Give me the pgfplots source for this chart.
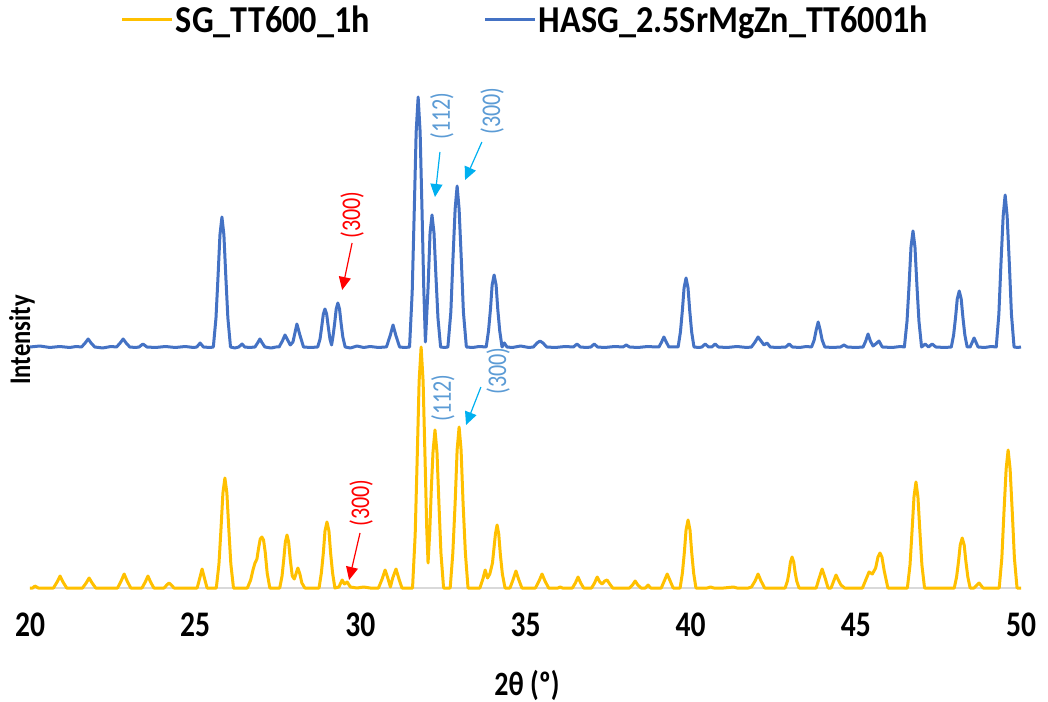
\documentclass[border=0pt]{standalone}
\usepackage{fontspec}
\setmainfont{Carlito}[FakeStretch=0.82]
\newfontfamily\legfont{Carlito}[FakeStretch=0.9]
\newfontfamily\labfont{Carlito Bold}[FakeStretch=0.82]
\usepackage{pgfplots}
\pgfplotsset{compat=1.18}
\usetikzlibrary{arrows.meta}
\definecolor{xyellow}{HTML}{FFC000}
\definecolor{xblue}{HTML}{4472C4}
\definecolor{lblue}{HTML}{5B9BD5}
\definecolor{carrow}{HTML}{00B0F0}
\begin{document}
\begin{tikzpicture}
\useasboundingbox (-30bp,-114bp) rectangle (1018bp,588bp);
\begin{axis}[
  at={(0,0)}, anchor=south west, scale only axis,
  width=991bp, height=518bp,
  xmin=20, xmax=50, ymin=0, ymax=518,
  clip=false,
  axis y line=none, axis x line*=bottom,
  x axis line style={draw=black!15, line width=1.2bp},
  xtick={20,25,30,35,40,45,50}, major tick length=0pt,
  /pgf/number format/assume math mode=true,
  xticklabel style={font=\bfseries\fontsize{36bp}{38bp}\selectfont, anchor=center, yshift=-37bp},
  legend style={at={(0.5,1)}, anchor=center, yshift=50bp, draw=none, fill=none,
    legend columns=2, font=\legfont\bfseries\fontsize{38bp}{40bp}\selectfont,
    /tikz/every even column/.append style={column sep=112bp}},
  legend image code/.code={\draw[#1, line width=3bp] (0bp,0bp) -- (50bp,0bp);},
]
\addplot[xyellow, line width=3bp, line join=round] coordinates {
(20.00,0) (20.08,0) (20.15,2) (20.25,0) (20.71,0)
(20.82,6) (20.91,12) (21.00,6) (21.11,0)
(21.59,0) (21.70,5) (21.79,10) (21.88,5) (21.99,0)
(22.65,0) (22.76,7) (22.85,14) (22.94,7) (23.05,0)
(23.39,0) (23.49,6) (23.57,12) (23.65,6) (23.75,0)
(24.06,0) (24.14,3) (24.21,5) (24.28,3) (24.36,0)
(25.06,0) (25.14,10) (25.21,19) (25.28,10) (25.36,0)
(25.64,0) (25.72,24) (25.78,58) (25.84,95) (25.90,110) (25.96,95) (26.02,58) (26.08,24) (26.16,0)
(26.58,0) (26.68,8) (26.75,18) (26.81,25) (26.87,29) (26.92,40) (26.97,49) (27.02,51) (27.07,48) (27.12,36) (27.18,15) (27.26,0)
(27.56,0) (27.63,12) (27.68,28) (27.73,46) (27.78,53) (27.83,46) (27.88,28) (27.94,12) (28.00,9)
(28.06,15) (28.11,20) (28.17,14) (28.23,5) (28.32,0)
(28.75,0) (28.82,15) (28.88,35) (28.93,57) (28.99,66) (29.05,57) (29.10,35) (29.16,15) (29.23,0)
(29.35,1) (29.45,8) (29.52,4) (29.60,6) (29.70,1) (29.90,0) (30.10,1) (30.30,0) (30.55,0)
(30.66,9) (30.75,18) (30.84,9) (30.91,1) (30.98,10) (31.08,19) (31.17,9) (31.26,0)
(31.58,0) (31.66,53) (31.72,128) (31.78,207) (31.84,241) (31.90,207) (31.96,128) (32.01,60) (32.05,25)
(32.10,55) (32.15,100) (32.20,136) (32.26,158) (32.32,136) (32.38,84) (32.44,35) (32.52,0)
(32.72,0) (32.80,35) (32.87,85) (32.93,138) (32.99,161) (33.05,138) (33.11,85) (33.18,35) (33.26,0)
(33.62,0) (33.71,9) (33.78,18) (33.85,10) (33.92,14)
(34.00,25) (34.04,38) (34.09,54) (34.14,63) (34.19,54) (34.24,33) (34.30,14) (34.38,0)
(34.53,0) (34.62,8) (34.71,17) (34.80,8) (34.89,0)
(35.30,0) (35.41,7) (35.50,14) (35.59,7) (35.70,0)
(35.98,0) (36.05,1) (36.12,0) (36.42,0) (36.51,5) (36.59,11) (36.67,5) (36.76,0)
(37.00,0) (37.09,5) (37.17,11) (37.25,6) (37.32,4) (37.40,7) (37.47,8) (37.55,4) (37.64,0)
(38.15,0) (38.24,3) (38.32,7) (38.40,3) (38.50,0) (38.63,0) (38.71,3) (38.79,0)
(39.11,0) (39.20,7) (39.29,14) (39.38,7) (39.47,0)
(39.68,0) (39.75,15) (39.81,36) (39.86,58) (39.92,68) (39.98,58) (40.03,36) (40.09,15) (40.16,0)
(40.50,0) (40.60,1) (40.70,0) (41.00,0) (41.30,1) (41.40,0) (41.75,0) (41.84,1)
(41.95,7) (42.04,14) (42.13,7) (42.24,0)
(42.86,0) (42.93,7) (42.98,16) (43.02,26) (43.07,31) (43.12,26) (43.16,16) (43.21,7) (43.28,0)
(43.80,0) (43.89,10) (43.98,19) (44.07,10) (44.16,0)
(44.25,0) (44.33,7) (44.40,13) (44.47,8) (44.55,3) (44.66,0)
(45.20,0) (45.30,8) (45.40,16) (45.50,14) (45.60,20) (45.67,31) (45.73,35) (45.79,31) (45.86,17) (45.97,0)
(46.56,0) (46.64,23) (46.70,56) (46.76,91) (46.82,106) (46.88,91) (46.94,56) (47.00,23) (47.08,0)
(47.98,0) (48.05,11) (48.11,27) (48.16,43) (48.22,50) (48.28,43) (48.33,27) (48.39,11) (48.46,0)
(48.58,0) (48.73,5) (48.85,0)
(49.34,0) (49.42,30) (49.48,73) (49.55,119) (49.61,138) (49.67,119) (49.74,73) (49.80,30) (49.88,0) (50.00,0)
};
\addlegendentry{SG\_TT600\_1h}
\addplot[xblue, line width=3bp, line join=round] coordinates {
(20.00,241) (20.30,242) (20.60,240.5) (20.90,241.5) (21.20,240.5) (21.40,241.5)
(21.56,241) (21.67,245) (21.76,249) (21.85,245) (21.96,241)
(22.20,240) (22.45,241.5)
(22.62,241) (22.73,245) (22.82,249) (22.91,245) (23.02,241)
(23.20,240.5) (23.30,241) (23.42,244) (23.54,241)
(23.80,240.5) (24.10,241.5) (24.40,240.5) (24.70,241.5) (24.95,240.5)
(25.05,241) (25.15,245) (25.25,241) (25.45,240.5)
(25.55,241) (25.63,270) (25.69,310) (25.75,353) (25.81,371) (25.87,353) (25.93,310) (25.99,270) (26.07,241)
(26.20,240) (26.32,241) (26.42,244) (26.50,241) (26.65,240.5)
(26.81,241) (26.89,245) (26.96,249) (27.03,245) (27.11,241)
(27.30,240) (27.45,241)
(27.54,241) (27.64,247) (27.72,253) (27.80,248) (27.88,243)
(27.96,246) (28.08,264) (28.17,253) (28.28,241)
(28.50,240.5)
(28.71,241) (28.78,249) (28.83,261) (28.88,274) (28.93,279) (28.98,274) (29.03,261) (29.08,249) (29.13,243)
(29.17,251) (29.22,264) (29.27,279) (29.32,285) (29.37,279) (29.42,264) (29.47,251) (29.54,241)
(29.70,240) (29.90,242) (30.10,240.5) (30.30,241.5) (30.55,240.5) (30.75,241)
(30.79,241) (30.90,252) (30.99,263) (31.08,252) (31.19,241)
(31.35,240.5)
(31.49,241) (31.57,296) (31.63,374) (31.69,456) (31.75,491) (31.81,456) (31.87,374) (31.92,300) (31.97,246)
(32.05,300) (32.11,355) (32.17,373) (32.23,355) (32.29,311) (32.35,270) (32.43,241)
(32.55,240.5)
(32.65,241) (32.74,276) (32.80,326) (32.87,379) (32.93,402) (32.99,379) (33.06,326) (33.12,276) (33.21,241)
(33.40,240.5) (33.60,241.5)
(33.81,241) (33.88,257) (33.94,279) (33.99,303) (34.05,313) (34.11,303) (34.16,279) (34.22,257) (34.29,241)
(34.36,245) (34.44,241)
(34.60,240.5) (34.85,242) (35.10,240.5)
(35.24,241) (35.35,245) (35.44,247) (35.53,245) (35.64,241)
(35.90,240.5) (36.20,241.5) (36.45,241) (36.56,244) (36.66,241)
(36.85,240.5) (36.98,241) (37.08,244) (37.18,241)
(37.40,240.5) (37.70,241.5) (37.95,241) (38.05,243) (38.15,241) (38.40,240.5) (38.70,241.5) (38.95,241)
(39.04,241) (39.12,246) (39.19,251) (39.26,246) (39.34,241)
(39.55,241)
(39.62,241) (39.69,256) (39.75,278) (39.80,300) (39.86,310) (39.92,300) (39.97,278) (40.03,256) (40.10,241)
(40.25,240.5) (40.34,241) (40.44,244) (40.54,241)
(40.64,241) (40.74,244) (40.84,241)
(41.10,240.5) (41.40,241.5) (41.70,240.5) (41.84,241)
(41.95,246) (42.04,251) (42.13,247) (42.22,243) (42.31,245) (42.41,241)
(42.60,240.5) (42.88,241) (42.98,244) (43.08,241) (43.30,240.5) (43.50,241.5) (43.66,241)
(43.74,248) (43.80,258) (43.86,266) (43.92,258) (43.98,248) (44.06,241)
(44.30,240.5) (44.54,241) (44.64,243) (44.74,241) (45.00,240.5) (45.22,241)
(45.30,247) (45.37,254) (45.44,247) (45.52,242)
(45.60,244) (45.70,247) (45.80,241)
(46.10,240.5) (46.35,241.5)
(46.47,241) (46.55,267) (46.61,302) (46.67,341) (46.73,357) (46.79,341) (46.85,302) (46.91,267) (46.99,241)
(47.10,244) (47.20,241) (47.31,244) (47.42,241) (47.70,240.5)
(47.89,241) (47.96,253) (48.02,271) (48.07,289) (48.13,297) (48.19,289) (48.24,271) (48.30,253) (48.37,241)
(48.46,241) (48.58,250) (48.70,241)
(48.90,240.5) (49.10,241.5)
(49.25,241) (49.33,274) (49.39,322) (49.46,372) (49.52,393) (49.58,372) (49.65,322) (49.71,274) (49.79,241)
(49.90,240.5) (50.00,241)
};
\addlegendentry{HASG\_2.5SrMgZn\_TT6001h}
% annotations
\node[rotate=90, text=red, font=\fontsize{27bp}{29bp}\selectfont] at (axis cs:29.75,373) {(300)};
\draw[red, line width=1.2bp, -{Triangle[width=12bp,length=13bp]}] (axis cs:29.75,345) -- (axis cs:29.45,298);
\node[rotate=90, text=lblue, font=\fontsize{27bp}{29bp}\selectfont] at (axis cs:32.47,472) {(112)};
\draw[carrow, line width=1.2bp, -{Triangle[width=12bp,length=13bp]}] (axis cs:32.41,436) -- (axis cs:32.26,391);
\node[rotate=90, text=lblue, font=\fontsize{27bp}{29bp}\selectfont] at (axis cs:33.99,477) {(300)};
\draw[carrow, line width=1.2bp, -{Triangle[width=12bp,length=13bp]}] (axis cs:33.68,446) -- (axis cs:33.17,408);
\node[rotate=90, text=lblue, font=\fontsize{27bp}{29bp}\selectfont] at (axis cs:32.50,190) {(112)};
\node[rotate=90, text=lblue, font=\fontsize{27bp}{29bp}\selectfont] at (axis cs:34.17,217) {(300)};
\draw[carrow, line width=1.2bp, -{Triangle[width=12bp,length=13bp]}] (axis cs:33.65,201) -- (axis cs:33.20,163);
\node[rotate=90, text=red, font=\fontsize{27bp}{29bp}\selectfont] at (axis cs:30.02,85) {(300)};
\draw[red, line width=1.2bp, -{Triangle[width=12bp,length=13bp]}] (axis cs:29.99,55) -- (axis cs:29.66,8);
\end{axis}
\node[rotate=90, font=\labfont\fontsize{30bp}{32bp}\selectfont] at (-8bp,248bp) {Intensity};
\node[font=\labfont\fontsize{34bp}{36bp}\selectfont, inner sep=0pt] at (497bp,-97bp) {2θ (º)};
\end{tikzpicture}
\end{document}
